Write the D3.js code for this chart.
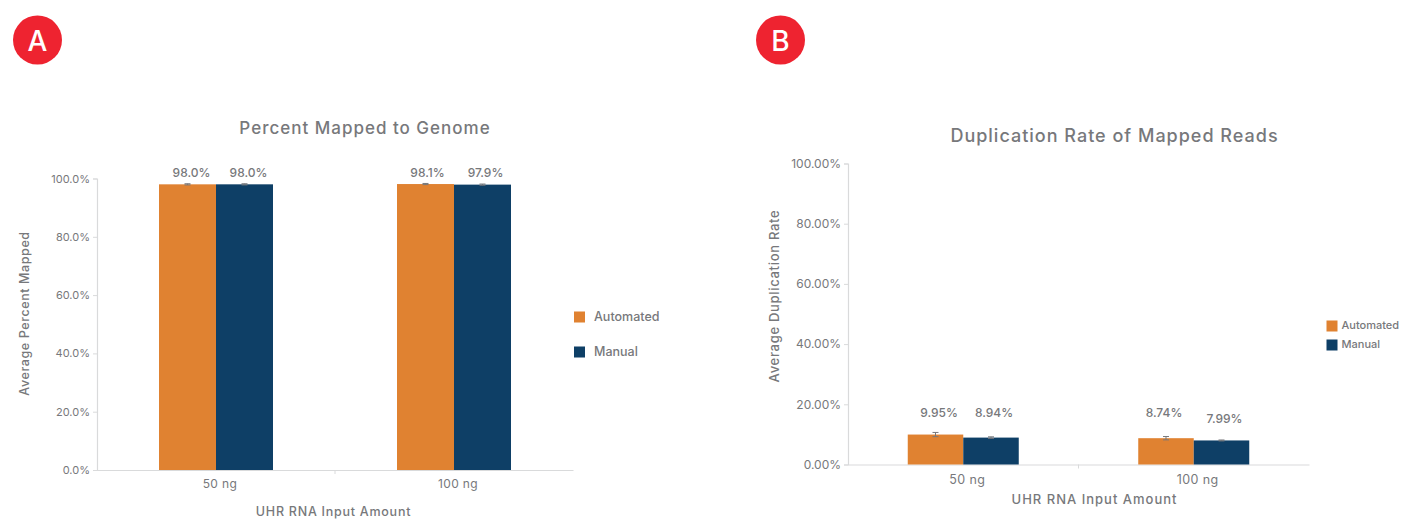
<!DOCTYPE html>
<html lang="en">
<head>
<meta charset="utf-8">
<title>Percent mapped and duplication rate</title>
<script src="https://cdn.jsdelivr.net/npm/d3@7"></script>
<style>
html, body { margin: 0; background: #fff; overflow: hidden; }
svg { display: block; font-family: Inter, sans-serif; }
text { fill: #77787b; }
</style>
</head>
<body>
<svg id="chart" width="1407" height="530"></svg>
<script>
var categories = ["50 ng", "100 ng"];
var seriesNames = ["Automated", "Manual"];
var colors = ["#e08231", "#0e3f66"];

// panel A
var mappedAutomated = [98.0, 98.1];
var mappedManual = [98.0, 97.9];
var mappedAutomatedErr = [0.2, 0.2];
var mappedManualErr = [0.2, 0.2];
var mappedTicks = [0, 20, 40, 60, 80, 100];

// panel B
var dupAutomated = [9.95, 8.74];
var dupManual = [8.94, 7.99];
var dupAutomatedErr = [0.7, 0.55];
var dupManualErr = [0.25, 0.15];
var dupTicks = [0, 20, 40, 60, 80, 100];

var svg = d3.select("#chart");

function drawPanel(o) {
	var x = d3.scaleBand().domain(categories).range([o.left, o.right]);
	var y = d3.scaleLinear().domain([0, 100]).range([o.bottom, o.top]);
	var series = d3.scaleBand().domain(seriesNames)
		.range([-o.barW, o.barW]);

	var xAxis = svg.append("g")
		.attr("transform", "translate(0," + o.bottom + ")")
		.call(d3.axisBottom(x).tickValues([]).tickSize(0));
	xAxis.select(".domain").attr("stroke", "#d9dadb").attr("stroke-width", 1.2);

	// divider tick between the two groups
	svg.append("line")
		.attr("x1", o.left + (o.right - o.left) / 2).attr("x2", o.left + (o.right - o.left) / 2)
		.attr("y1", o.bottom).attr("y2", o.bottom + 4)
		.attr("stroke", "#d9dadb");

	var yAxis = svg.append("g")
		.attr("transform", "translate(" + o.left + ",0)")
		.call(d3.axisLeft(y).tickValues(o.ticks).tickSize(4).tickPadding(3)
			.tickFormat(function(d) { return d3.format(o.tickFmt)(d) + "%"; }));
	yAxis.select(".domain").attr("stroke", "#d9dadb").attr("stroke-width", 1.2);
	yAxis.selectAll("line").attr("stroke", "#d9dadb");
	yAxis.selectAll("text")
		.style("font-family", "Inter, sans-serif")
		.style("font-size", o.tickSize + "px")
		.attr("fill", null);

	categories.forEach(function(cat, i) {
		var cx = x(cat) + x.bandwidth() / 2;
		o.values.forEach(function(vals, s) {
			var name = seriesNames[s];
			var bx = cx + series(name);
			svg.append("rect")
				.attr("x", bx).attr("y", y(vals[i]))
				.attr("width", series.bandwidth())
				.attr("height", o.bottom - y(vals[i]))
				.attr("fill", colors[s]);

			var ex = bx + series.bandwidth() / 2;
			var err = o.errors[s][i];
			svg.append("path")
				.attr("d", "M" + (ex - 3) + "," + y(vals[i] + err) + "H" + (ex + 3)
					+ "M" + ex + "," + y(vals[i] + err) + "V" + y(vals[i] - err)
					+ "M" + (ex - 3) + "," + y(vals[i] - err) + "H" + (ex + 3))
				.attr("fill", "none").attr("stroke", "#77787b").attr("stroke-width", 1);

			svg.append("text")
				.attr("x", ex + o.labelDx[s][i])
				.attr("y", o.labelY[s][i])
				.attr("text-anchor", "middle")
				.style("font-size", o.labelSize + "px")
				.style("font-weight", 500)
				.text(d3.format(o.labelFmt)(vals[i]) + "%");
		});
		svg.append("text")
			.attr("x", cx + 4).attr("y", o.catY)
			.attr("text-anchor", "middle")
			.style("font-size", o.catSize + "px")
			.style("letter-spacing", "0.4px")
			.text(cat);
	});

	svg.append("text")
		.attr("x", o.titleX).attr("y", o.titleY)
		.attr("text-anchor", "middle")
		.style("font-size", o.titleSize + "px")
		.style("font-weight", 500)
		.style("letter-spacing", "1px")
		.text(o.title);

	svg.append("text")
		.attr("x", o.xTitleX).attr("y", o.xTitleY)
		.attr("text-anchor", "middle")
		.style("font-size", o.axisSize + "px")
		.style("font-weight", 500)
		.style("letter-spacing", o.xTitleSpacing + "px")
		.text("UHR RNA Input Amount");

	svg.append("text")
		.attr("transform", "translate(" + o.yTitleX + "," + o.yTitleY + ") rotate(-90)")
		.attr("text-anchor", "middle")
		.style("font-size", o.axisSize + "px")
		.style("font-weight", 500)
		.style("letter-spacing", o.yTitleSpacing + "px")
		.text(o.yTitle);

	seriesNames.forEach(function(name, s) {
		svg.append("rect")
			.attr("x", o.legendX).attr("y", o.legendY[s] - o.legendBox / 2)
			.attr("width", o.legendBox).attr("height", o.legendBox)
			.attr("fill", colors[s]);
		svg.append("text")
			.attr("x", o.legendX + o.legendBox + o.legendGap).attr("y", o.legendY[s] + o.legendSize * 0.3)
			.style("font-size", o.legendSize + "px")
			.style("font-weight", 500)
			.text(name);
	});

	svg.append("circle")
		.attr("cx", o.badgeX).attr("cy", 40).attr("r", 24.5).attr("fill", "#ee2330");
	svg.append("text")
		.attr("x", o.badgeX).attr("y", 50.5)
		.attr("text-anchor", "middle")
		.style("font-size", "28px")
		.style("font-weight", 500)
		.style("fill", "#fff")
		.text(o.badge);
}

drawPanel({
	badge: "A", badgeX: 37.5,
	left: 97, right: 573, top: 178.5, bottom: 470, barW: 57,
	values: [mappedAutomated, mappedManual],
	errors: [mappedAutomatedErr, mappedManualErr],
	ticks: mappedTicks, tickFmt: ".1f", tickSize: 11,
	labelFmt: ".1f", labelSize: 12, labelDx: [[4, 2], [4, 3]],
	labelY: [[176.5, 176.5], [176.5, 176.5]],
	catY: 488, catSize: 12,
	title: "Percent Mapped to Genome", titleX: 365, titleY: 134, titleSize: 17,
	xTitleX: 333.5, xTitleY: 516, axisSize: 12.5, xTitleSpacing: 0.75, yTitleSpacing: 0.6,
	yTitle: "Average Percent Mapped", yTitleX: 29, yTitleY: 313.5,
	legendX: 574, legendY: [317, 352], legendBox: 11, legendGap: 9, legendSize: 12.5
});

drawPanel({
	badge: "B", badgeX: 780.5,
	left: 848, right: 1309, top: 163.5, bottom: 464.5, barW: 55.5,
	values: [dupAutomated, dupManual],
	errors: [dupAutomatedErr, dupManualErr],
	ticks: dupTicks, tickFmt: ".2f", tickSize: 12,
	labelFmt: ".2f", labelSize: 12, labelDx: [[3.5, -2], [3, 3]],
	labelY: [[416.5, 416.5], [416.5, 422.5]],
	catY: 484, catSize: 12.5,
	title: "Duplication Rate of Mapped Reads", titleX: 1114.5, titleY: 142, titleSize: 18,
	xTitleX: 1094.5, xTitleY: 504, axisSize: 13, xTitleSpacing: 1, yTitleSpacing: 0.7,
	yTitle: "Average Duplication Rate", yTitleX: 779, yTitleY: 296,
	legendX: 1326.5, legendY: [326, 345], legendBox: 11, legendGap: 4, legendSize: 11
});
</script>
</body>
</html>
